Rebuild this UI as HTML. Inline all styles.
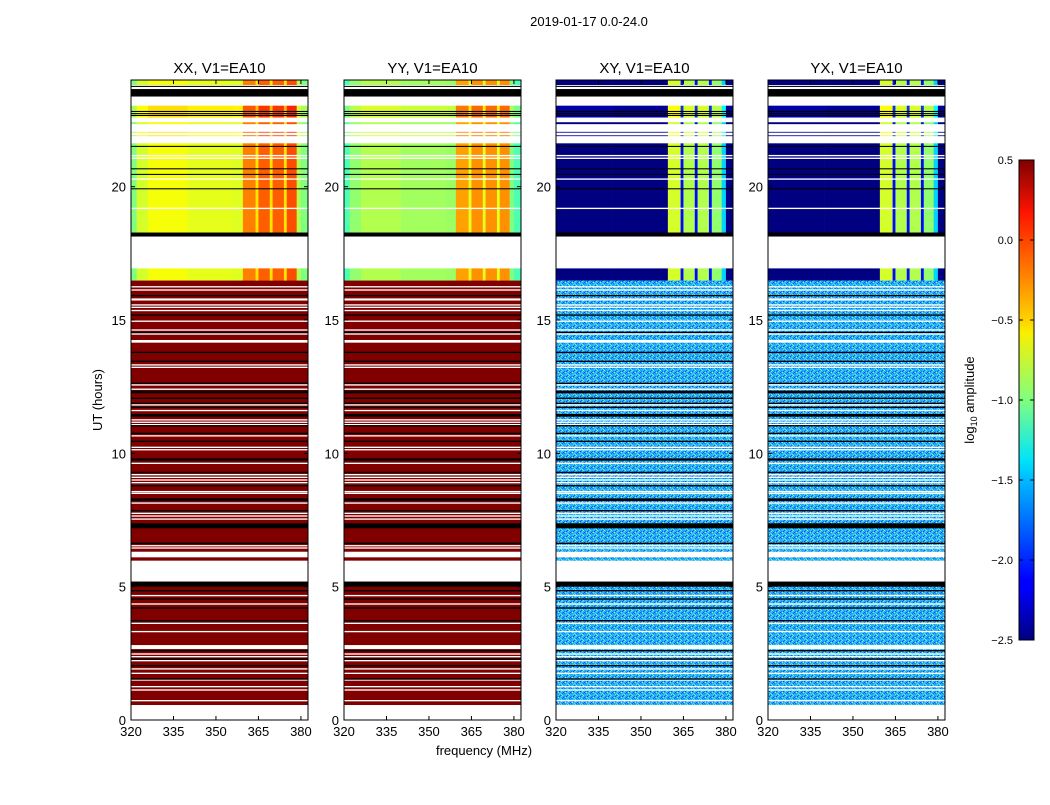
<!DOCTYPE html>
<html><head><meta charset="utf-8">
<style>
body{margin:0;background:#fff;width:1050px;height:800px;overflow:hidden;font-family:"Liberation Sans",sans-serif;}
svg text{font-family:"Liberation Sans",sans-serif;}
</style></head>
<body>
<svg id="fig" width="1050" height="800" viewBox="0 0 1050 800" xmlns="http://www.w3.org/2000/svg">
<defs>
<pattern id="noise" width="7" height="5" patternUnits="userSpaceOnUse">
<rect width="7" height="5" fill="#30a8f8"/>
<rect x="0" y="0" width="1" height="1" fill="#1060ff"/><rect x="2" y="0" width="1" height="1" fill="#70f8b0"/>
<rect x="5" y="0" width="1" height="1" fill="#00d0ff"/>
<rect x="4" y="1" width="1" height="1" fill="#1080ff"/><rect x="1" y="1" width="1" height="1" fill="#50f0d0"/>
<rect x="6" y="1" width="1" height="1" fill="#0050f0"/>
<rect x="3" y="2" width="1" height="1" fill="#0050ff"/><rect x="5" y="2" width="1" height="1" fill="#a0ff70"/>
<rect x="0" y="2" width="1" height="1" fill="#20c0ff"/>
<rect x="0" y="3" width="1" height="1" fill="#40e0f0"/><rect x="4" y="3" width="1" height="1" fill="#1080ff"/>
<rect x="2" y="3" width="1" height="1" fill="#0070ff"/>
<rect x="1" y="4" width="1" height="1" fill="#60ffb0"/><rect x="3" y="4" width="1" height="1" fill="#00b8ff"/>
<rect x="6" y="4" width="1" height="1" fill="#40e8e0"/>
</pattern>
<linearGradient id="jet" x1="0" y1="1" x2="0" y2="0">
<stop offset="0" stop-color="#000080"/><stop offset="0.11" stop-color="#0000ff"/>
<stop offset="0.125" stop-color="#0000ff"/><stop offset="0.34" stop-color="#00c0ff"/>
<stop offset="0.375" stop-color="#00e4f8"/><stop offset="0.5" stop-color="#80ff80"/>
<stop offset="0.64" stop-color="#f8f000"/><stop offset="0.66" stop-color="#ffd800"/>
<stop offset="0.89" stop-color="#ff1400"/><stop offset="1" stop-color="#800000"/>
</linearGradient>
</defs>
<text x="589" y="26" font-size="13" text-anchor="middle">2019-01-17 0.0-24.0</text>
<text x="484" y="755" font-size="13" text-anchor="middle">frequency (MHz)</text>
<text x="102" y="400" font-size="13" text-anchor="middle" transform="rotate(-90 102 400)">UT (hours)</text>
<g id="panels"></g>
<g>
<rect x="1019" y="160" width="15" height="480" fill="url(#jet)" stroke="#000" stroke-width="1"/>
</g>
<text x="974" y="400" font-size="13" text-anchor="middle" transform="rotate(-90 974 400)">log<tspan font-size="9" dy="3">10</tspan><tspan dy="-3"> amplitude</tspan></text>
<g id="cbticks"></g>
</svg>
<script>
const panelTitles = ["XX, V1=EA10","YY, V1=EA10","XY, V1=EA10","YX, V1=EA10"];
const xTicks = [320,335,350,365,380];
const yTicks = [0,5,10,15,20];
const cbTicks = [0.5,0.0,-0.5,-1.0,-1.5,-2.0,-2.5];
const freqStops = [320,322,326,340,356,359.5,364,365,369,370,374,375,378.5,380,382.5];
const profXX = [-1.0,-0.75,-0.65,-0.7,-0.72,-0.25,-0.55,-0.15,-0.55,-0.15,-0.55,-0.1,-0.85,-1.0];
const profYY = [-1.15,-0.95,-0.85,-0.9,-0.92,-0.35,-0.7,-0.3,-0.7,-0.3,-0.7,-0.3,-1.0,-1.15];
const profXY = [-2.55,-2.5,-2.5,-2.55,-2.55,-0.75,-2.1,-0.85,-2.1,-0.85,-2.1,-0.95,-1.5,-2.55];
const profYX = [-2.55,-2.5,-2.5,-2.55,-2.55,-0.75,-2.1,-0.85,-2.1,-0.85,-2.1,-0.95,-1.5,-2.55];
const daySegStart = [24.0, 23.04, 22.42, 22.06, 21.93, 21.63, 16.94];
const daySegEnd   = [23.81, 22.59, 22.34, 22.02, 21.89, 18.25, 16.48];
const daySegOff   = [0, 0.12, 0, 0.1, 0.1, 0, 0];
const baseTop = 16.48, baseBottom = 0.56;
const whiteStart = [23.81,23.38,22.59,22.34,22.02,21.89,21.19,21.09,20.31,19.21,18.13,
 16.27,16.15,15.81,15.59,15.5,15.38,14.98,14.65,14.5,14.25,13.34,13.25,12.59,12.43,11.84,11.63,11.28,11.19,11.1,10.68,10.25,10.16,9.65,9.225,9.125,9.025,8.925,8.59,8.525,8.16,7.775,7.675,7.56,6.56,6.475,6.31,5.975,4.69,4.375,3.65,3.34,2.81,2.5,2.4,2.25,1.94,1.775,1.525,1.275,1.15,0.75,0.56];
const whiteEnd   = [23.66,23.04,22.42,22.06,21.93,21.63,21.14,21.04,20.26,19.16,16.94,
 16.22,16.10,15.73,15.54,15.45,15.33,14.93,14.60,14.45,14.15,13.29,13.20,12.54,12.38,11.79,11.58,11.23,11.14,11.05,10.63,10.20,10.11,9.60,9.175,9.075,8.975,8.875,8.54,8.475,8.11,7.725,7.625,7.51,6.51,6.425,6.1,5.19,4.64,4.325,3.60,3.29,2.66,2.45,2.35,2.20,1.89,1.725,1.475,1.225,1.10,0.70,0.0];
const blackStart = [23.78,23.66,22.84,22.76,22.69,21.53,20.69,20.48,19.94,18.28,
 15.94,15.21,14.56,13.81,13.475,12.65,12.35,12.09,11.9,11.75,11.475,11.06,10.775,10.475,9.81,9.31,8.81,8.31,7.875,7.375,6.65,5.19,4.875,4.56,4.225,3.75,2.625,2.31,2.06,1.56];
const blackEnd   = [23.74,23.38,22.80,22.72,22.65,21.49,20.65,20.44,19.90,18.13,
 15.89,15.16,14.51,13.76,13.425,12.60,12.25,12.04,11.85,11.70,11.375,11.01,10.725,10.425,9.725,9.26,8.76,8.21,7.825,7.19,6.60,5.0,4.825,4.51,4.175,3.70,2.575,2.26,2.01,1.51];

const NS="http://www.w3.org/2000/svg";
const panelX0=[131,344,556,768], PW=177, PY0=80, PY1=720;
const profiles=[profXX,profYY,profXY,profYX];
const baseFill=["#800000","#800000","url(#noise)","url(#noise)"];
function yOf(h){return PY1-(h/24)*(PY1-PY0);}
function jet(v){let t=(v+2.5)/3;t=Math.max(0,Math.min(1,t));
 const r=Math.max(0,Math.min(1,1.5-Math.abs(4*t-3))),g=Math.max(0,Math.min(1,1.5-Math.abs(4*t-2))),b=Math.max(0,Math.min(1,1.5-Math.abs(4*t-1)));
 return `rgb(${Math.round(r*255)},${Math.round(g*255)},${Math.round(b*255)})`;}
function mk(tag,attrs,parent){const e=document.createElementNS(NS,tag);for(const k in attrs)e.setAttribute(k,attrs[k]);parent.appendChild(e);return e;}
const root=document.getElementById('panels');
for(let p=0;p<4;p++){
 const x0=panelX0[p];
 const xOf=f=>x0+(f-320)*PW/62.5;
 const g=mk('g',{},root);
 
 
 mk('clipPath',{id:'c'+p},g);
 const cp=g.lastChild; mk('rect',{x:x0,y:PY0,width:PW,height:PY1-PY0},cp);
 const hm=mk('g',{'clip-path':`url(#c${p})`},g);
 
 
 mk('rect',{x:x0,y:PY0,width:PW,height:PY1-PY0,fill:'#fff'},hm);
 const base=mk('rect',{x:x0,y:yOf(baseTop),width:PW,height:yOf(baseBottom)-yOf(baseTop),fill:baseFill[p]},hm);
 
 
 const prof=profiles[p];
 for(let s=0;s<daySegStart.length;s++){
  const yt=yOf(daySegStart[s]), yb=yOf(daySegEnd[s]);
  for(let i=0;i<prof.length;i++){
   const c=mk('rect',{x:xOf(freqStops[i]),y:yt,width:xOf(freqStops[i+1])-xOf(freqStops[i])+0.3,height:yb-yt,fill:jet(prof[i]+daySegOff[s])},hm);
   
   
  }
 }
 for(let i=0;i<whiteStart.length;i++){
  const r=mk('rect',{x:x0,y:yOf(whiteStart[i]),width:PW,height:Math.max(1,yOf(whiteEnd[i])-yOf(whiteStart[i])),fill:'#fff'},hm);
  
  
 }
 for(let i=0;i<blackStart.length;i++){
  const r=mk('rect',{x:x0,y:yOf(blackStart[i]),width:PW,height:Math.max(1,yOf(blackEnd[i])-yOf(blackStart[i])),fill:'#000'},hm);
  
  
 }
 mk('rect',{x:x0,y:PY0,width:PW,height:PY1-PY0,fill:'none',stroke:'#000','stroke-width':1},g);
 const t=mk('text',{x:x0+PW/2,y:73,'font-size':15,'text-anchor':'middle'},g);
 t.textContent=panelTitles[p];
 
 
 xTicks.forEach(f=>{
  const x=xOf(f);
  mk('line',{x1:x,x2:x,y1:PY1,y2:PY1-4,stroke:'#000'},g);
  mk('line',{x1:x,x2:x,y1:PY0,y2:PY0+4,stroke:'#000'},g);
  const l=mk('text',{x:x,y:PY1+16,'font-size':13,'text-anchor':'middle'},g);
  l.textContent=f;
  
  
 });
 yTicks.forEach(h=>{
  const y=yOf(h);
  mk('line',{x1:x0,x2:x0+4,y1:y,y2:y,stroke:'#000'},g);
  mk('line',{x1:x0+PW,x2:x0+PW-4,y1:y,y2:y,stroke:'#000'},g);
  const l=mk('text',{x:x0-5,y:y+5,'font-size':13,'text-anchor':'end'},g);
  l.textContent=h;
  
  
 });
}
const cb=document.getElementById('cbticks');
cbTicks.forEach(v=>{
 const y=640-(v+2.5)/3*480;
 mk('line',{x1:1019,x2:1023,y1:y,y2:y,stroke:'#000'},cb);
 mk('line',{x1:1034,x2:1030,y1:y,y2:y,stroke:'#000'},cb);
 const l=mk('text',{x:1013,y:y+4,'font-size':11,'text-anchor':'end'},cb);
 l.textContent=(v<0?'\u2212':'')+Math.abs(v).toFixed(1);
 
 
});
</script>
</body></html>
